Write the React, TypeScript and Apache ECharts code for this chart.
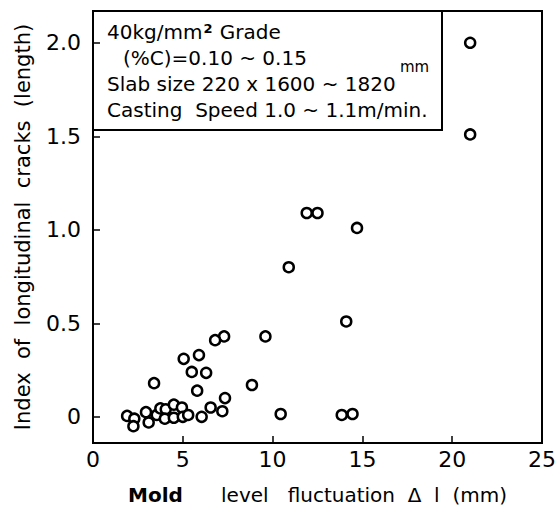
import React, { useEffect, useRef } from "react";
import * as echarts from "echarts";

const xValues = [21.0, 21.0, 11.9, 12.5, 14.7, 10.9, 14.1, 9.6, 7.3, 6.8, 5.05, 5.9, 5.5, 6.3, 3.4, 8.85, 5.8, 7.35, 6.55, 7.2, 6.05, 10.45, 13.85, 14.45, 1.9, 2.3, 2.25, 2.95, 3.1, 3.55, 3.75, 4.05, 4.0, 4.5, 4.5, 4.95, 5.0, 5.3];
const yValues = [2.0, 1.51, 1.09, 1.09, 1.01, 0.8, 0.51, 0.43, 0.43, 0.41, 0.31, 0.33, 0.24, 0.235, 0.18, 0.17, 0.14, 0.1, 0.05, 0.03, 0.0, 0.015, 0.01, 0.015, 0.005, -0.01, -0.05, 0.025, -0.03, 0.01, 0.045, 0.04, -0.01, 0.065, -0.005, 0.05, 0.0, 0.01];
const xTicks = [0, 5, 10, 15, 20, 25];
const yTicks = [0, 0.5, 1.0, 1.5, 2.0];
const boxLines = ["40kg/mm{s|2} Grade", "(%C)=0.10 ~ 0.15", "Slab size 220 x 1600 ~ 1820", "Casting  Speed 1.0 ~ 1.1m/min."];
const boxUnit = "mm";

const FONT = "DejaVu Sans";

export default function App() {
  const ref = useRef<HTMLDivElement>(null);
  useEffect(() => {
    const chart = echarts.init(ref.current!, null, { renderer: "svg" });
    const data = xValues.map((x, i) => [x, yValues[i]]);
    const txt = (t: string, x: number, y: number, size = 20, extra: any = {}) => ({
      type: "text",
      x,
      y,
      z: 11,
      style: { text: t, fontFamily: FONT, fontSize: size, fill: "#000", verticalAlign: "middle", ...extra },
    });
    chart.setOption({
      animation: false,
      backgroundColor: "#fff",
      grid: { left: 93, right: 11, top: 11, bottom: 66, show: true, borderColor: "#000", borderWidth: 2, backgroundColor: "transparent" },
      xAxis: {
        type: "value",
        min: xTicks[0],
        max: xTicks[xTicks.length - 1],
        interval: 5,
        name: "{b|Mold}      level   fluctuation  \u0394  l  (mm)",
        nameLocation: "middle",
        nameGap: 42,
        nameTextStyle: {
          fontFamily: FONT,
          fontSize: 20,
          color: "#000",
          rich: { b: { fontFamily: FONT, fontSize: 20, fontWeight: "bold", color: "#000" } },
        },
        axisLine: { onZero: false, lineStyle: { color: "#000", width: 2 } },
        axisTick: { inside: true, length: 7, lineStyle: { color: "#000", width: 1.5 } },
        axisLabel: { fontFamily: FONT, fontSize: 22, color: "#000", margin: 5 },
        splitLine: { show: false },
      },
      yAxis: {
        type: "value",
        min: -0.14,
        max: 2.17,
        name: "Index  of  longitudinal  cracks  (length)",
        nameLocation: "middle",
        nameRotate: 90,
        nameGap: 60,
        nameTextStyle: { fontFamily: FONT, fontSize: 21, color: "#000" },
        axisLine: { show: true, onZero: false, lineStyle: { color: "#000", width: 2 } },
        axisTick: { show: true, inside: true, length: 7, customValues: yTicks, lineStyle: { color: "#000", width: 1.5 } },
        axisLabel: {
          fontFamily: FONT,
          fontSize: 22,
          color: "#000",
          margin: 12,
          customValues: yTicks,
          formatter: (v: number) => (v === 0 ? "0" : v.toFixed(1)),
        },
        splitLine: { show: false },
      },
      graphic: [
        { type: "rect", shape: { x: 93, y: 11, width: 349, height: 119 }, style: { fill: "none", stroke: "#000", lineWidth: 2 }, z: 10 },
        txt(boxLines[0], 107, 32, 20, { rich: { s: { fontFamily: FONT, fontSize: 13, fontWeight: "bold", verticalAlign: "top", padding: [0, 1, 0, 1] } } }),
        txt(boxLines[1], 123, 58),
        txt(boxLines[2], 107, 84),
        txt(boxUnit, 400, 67, 15),
        txt(boxLines[3], 107, 110),
      ],
      series: [
        {
          type: "scatter",
          data,
          symbol: "circle",
          symbolSize: 10,
          itemStyle: { color: "#fff", borderColor: "#000", borderWidth: 2.5, opacity: 1 },
        },
      ],
    });
    return () => chart.dispose();
  }, []);
  return <div ref={ref} style={{ width: 559, height: 510, position: "absolute", left: 0, top: 0 }} />;
}
